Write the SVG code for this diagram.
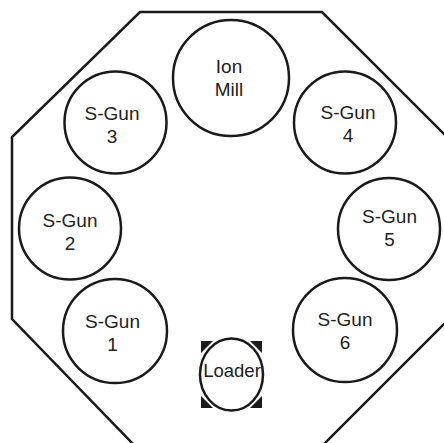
<svg xmlns="http://www.w3.org/2000/svg" width="444" height="443" viewBox="0 0 444 443">
<style>
.ch{fill:none;stroke:#1a1a1a;stroke-width:2.5}
.n{fill:#fff;stroke:#1a1a1a;stroke-width:2.5}
.t{font-family:"Liberation Sans",Arial,sans-serif;font-size:19px;fill:#222;text-anchor:middle}
.mk{fill:#1a1a1a}
</style>
<rect width="444" height="443" fill="#fff"/>
<g id="chamber">
<polygon class="ch" points="140,12 322,12 447,137 447,321 323,445 134,445 12,319 12,137"/>
</g>
<g id="connectors"></g>
<g id="ion-mill">
<circle class="n" cx="231" cy="78" r="58"/>
<text class="t" x="229" y="73">Ion</text>
<text class="t" x="229" y="96">Mill</text>
</g>
<g id="s-gun-3">
<circle class="n" cx="115.5" cy="122.5" r="51"/>
<text class="t" x="112" y="120">S-Gun</text>
<text class="t" x="112" y="143">3</text>
</g>
<g id="s-gun-4">
<circle class="n" cx="345" cy="122.5" r="51"/>
<text class="t" x="348" y="119">S-Gun</text>
<text class="t" x="348" y="142">4</text>
</g>
<g id="s-gun-2">
<circle class="n" cx="70" cy="228.5" r="51"/>
<text class="t" x="70" y="227">S-Gun</text>
<text class="t" x="70" y="250">2</text>
</g>
<g id="s-gun-5">
<circle class="n" cx="389" cy="229" r="51"/>
<text class="t" x="389.5" y="223">S-Gun</text>
<text class="t" x="389.5" y="246">5</text>
</g>
<g id="s-gun-1">
<circle class="n" cx="115" cy="331" r="52"/>
<text class="t" x="112.5" y="328">S-Gun</text>
<text class="t" x="112.5" y="351">1</text>
</g>
<g id="s-gun-6">
<circle class="n" cx="345" cy="330" r="52"/>
<text class="t" x="345" y="326">S-Gun</text>
<text class="t" x="345" y="349">6</text>
</g>
<g id="loader">
<path class="mk" d="M201,341 L213,341 L201,353 Z"/>
<path class="mk" d="M262,341 L250,341 L262,353 Z"/>
<path class="mk" d="M201,408 L213,408 L201,396 Z"/>
<path class="mk" d="M262,408 L250,408 L262,396 Z"/>
<ellipse class="n" cx="231.5" cy="374.5" rx="31.5" ry="36"/>
<text class="t" x="232" y="377" style="font-size:18.5px">Loader</text>
</g>
</svg>
